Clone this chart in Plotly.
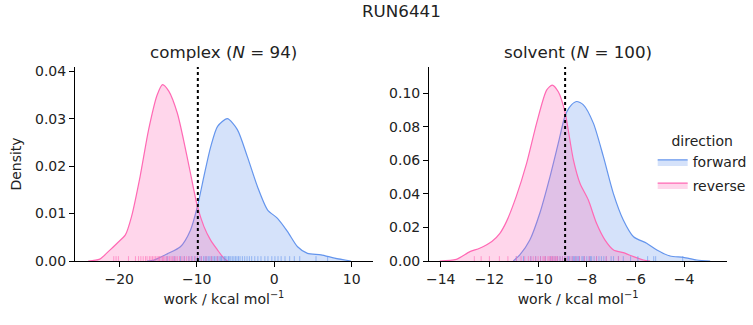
import plotly.graph_objects as go

# ---------------- data ----------------
# KDE curves (work in kcal/mol, density)
cx_fwd_x = [-16.4, -15.5, -13.8, -12.1, -10.8, -9.9, -9.07, -8.2, -7.3, -6.05, -4.75, -3.46,
            -2.16, -0.86, 0.43, 1.73, 3.02, 4.3, 6.05, 7.8, 9.9]
cx_fwd_y = [0, 0.0002, 0.0015, 0.003, 0.0065, 0.0115, 0.0178, 0.024, 0.0284, 0.030, 0.0277, 0.022,
            0.0157, 0.0108, 0.009, 0.0062, 0.003, 0.0016, 0.0013, 0.0006, 0.0]
cx_rev_x = [-24.0, -22.5, -21.2, -20.3, -19.2, -18.4, -17.3, -16.2, -15.1, -14.4, -13.6, -12.5,
            -11.7, -10.8, -9.9, -9.07, -8.2, -7.3, -6.5, -6.0]
cx_rev_y = [0, 0.0004, 0.0023, 0.0037, 0.0055, 0.0094, 0.0178, 0.0277, 0.035, 0.0372, 0.0358, 0.0312,
            0.0256, 0.0185, 0.0115, 0.0073, 0.0044, 0.0023, 0.0006, 0.0]

sv_fwd_x = [-11.02, -10.75, -10.34, -9.93, -9.51, -9.17, -8.9, -8.69, -8.42, -8.14, -7.73, -7.32,
            -6.91, -6.5, -6.08, -5.54, -5.12, -4.58, -4.03, -3.48, -2.93]
sv_fwd_y = [0, 0.0036, 0.0125, 0.0285, 0.0504, 0.0703, 0.0863, 0.0922, 0.0952, 0.0932, 0.0823, 0.0624,
            0.0404, 0.0245, 0.0145, 0.0106, 0.0066, 0.003, 0.0022, 0.0006, 0]
sv_rev_x = [-14.04, -13.36, -12.8, -12.4, -11.9, -11.57, -11.3, -10.9, -10.47, -10.06, -9.65, -9.42,
            -9.17, -8.9, -8.55, -8.28, -7.94, -7.6, -7.25, -6.9, -6.5, -6.08, -5.67, -5.4]
sv_rev_y = [0, 0.001, 0.0056, 0.0076, 0.0116, 0.0165, 0.0235, 0.0384, 0.0584, 0.0823, 0.102, 0.105,
            0.101, 0.0892, 0.0604, 0.0464, 0.0365, 0.0225, 0.0125, 0.0066, 0.005, 0.0026, 0.0006, 0]

# rug samples (estimated)
cx_fwd_rug = [-13.8, -12.9, -12.1, -11.6, -11.0, -10.6, -10.2, -9.9, -9.6, -9.4, -9.1, -8.9, -8.7,
              -8.5, -8.3, -8.1, -7.9, -7.7, -7.5, -7.3, -7.1, -6.9, -6.8, -6.6, -6.4, -6.3, -6.1,
              -5.9, -5.8, -5.6, -5.4, -5.2, -5.0, -4.8, -4.6, -4.4, -4.1, -3.8, -3.5, -3.2, -2.9,
              -2.5, -2.1, -1.7, -1.2, -0.8, -0.3, 0.1, 0.5, 0.9, 1.4, 2.0, 2.6, 3.3, 5.4, 6.9]
cx_rev_rug = [-20.7, -20.4, -20.1, -18.8, -17.9, -17.5, -17.2, -16.9, -16.6, -16.4, -16.1, -15.9,
              -15.7, -15.5, -15.3, -15.1, -14.9, -14.8, -14.6, -14.4, -14.3, -14.1, -13.9, -13.7,
              -13.5, -13.3, -13.1, -12.9, -12.7, -12.5, -12.2, -11.9, -11.6, -11.3, -11.0, -10.7,
              -10.3, -9.9, -9.4, -8.8, -8.1, -7.3]
sv_fwd_rug = [-10.9, -10.6, -10.3, -10.1, -9.9, -9.7, -9.5, -9.4, -9.3, -9.2, -9.1, -9.0, -8.9,
              -8.8, -8.75, -8.7, -8.6, -8.55, -8.5, -8.45, -8.4, -8.35, -8.3, -8.2, -8.15, -8.1,
              -8.0, -7.9, -7.85, -7.8, -7.7, -7.6, -7.5, -7.4, -7.3, -7.2, -7.0, -6.9, -6.7, -6.5,
              -6.2, -5.9, -5.5, -5.25, -5.17, -4.06]
sv_rev_rug = [-12.62, -12.34, -12.0, -11.59, -11.24, -10.89, -10.7, -10.55, -10.4, -10.3, -10.2,
              -10.1, -10.0, -9.9, -9.8, -9.75, -9.7, -9.6, -9.55, -9.5, -9.45, -9.4, -9.35, -9.3,
              -9.25, -9.2, -9.1, -9.0, -8.9, -8.8, -8.7, -8.6, -8.45, -8.3, -8.1, -7.9, -7.6,
              -7.2, -6.7]

dg_complex = -9.85
dg_solvent = -8.89

panel_titles = ["complex (<i>N</i> = 94)", "solvent (<i>N</i> = 100)"]
suptitle = "RUN6441"
xlabel = "work / kcal mol<sup>−1</sup>"
ylabel = "Density"
directions = ["forward", "reverse"]

# ---------------- style ----------------
FONT = "DejaVu Sans"
BLUE = "#6495ED"
PINK = "#FF69B4"
BLUE_FILL = "rgba(100,149,237,0.27)"
PINK_FILL = "rgba(255,105,180,0.27)"
BLUE_RUG = "rgba(100,149,237,0.6)"
PINK_RUG = "rgba(255,105,180,0.6)"

xr = [[-25.7, 12.75], [-14.48, -2.24]]
yr = [[0, 0.0409], [0, 0.1158]]

fig = go.Figure()

panels = [
    (cx_fwd_x, cx_fwd_y, cx_rev_x, cx_rev_y, cx_fwd_rug, cx_rev_rug, dg_complex),
    (sv_fwd_x, sv_fwd_y, sv_rev_x, sv_rev_y, sv_fwd_rug, sv_rev_rug, dg_solvent),
]

def rug_xy(vals, h):
    xs, ys = [], []
    for v in vals:
        xs += [v, v, None]
        ys += [0, h, None]
    return xs, ys

for i, (fx, fy, rx, ry, frug, rrug, dg) in enumerate(panels):
    xa = "x" if i == 0 else "x2"
    ya = "y" if i == 0 else "y2"
    for name, xs, ys, lc, fc in [(directions[0], fx, fy, BLUE, BLUE_FILL),
                                  (directions[1], rx, ry, PINK, PINK_FILL)]:
        fig.add_trace(go.Scatter(
            x=xs, y=ys, mode="lines", name=name, legendgroup=name,
            showlegend=(i == 1), fill="tozeroy", fillcolor=fc,
            line=dict(color=lc, width=1.2, shape="spline", smoothing=0.7),
            xaxis=xa, yaxis=ya, hoverinfo="skip"))
    h = 0.025 * yr[i][1]
    for vals, c in [(frug, BLUE_RUG), (rrug, PINK_RUG)]:
        rxs, rys = rug_xy(vals, h)
        fig.add_trace(go.Scatter(x=rxs, y=rys, mode="lines", showlegend=False,
                                 line=dict(color=c, width=1), xaxis=xa, yaxis=ya,
                                 hoverinfo="skip"))
    fig.add_shape(type="line", xref=xa, yref=ya + " domain", x0=dg, x1=dg, y0=0, y1=1,
                  line=dict(color="black", width=2, dash="dot"))

axis_common = dict(showline=True, linecolor="black", linewidth=1, ticks="outside",
                   ticklen=5, tickcolor="black", tickwidth=1, showgrid=False, zeroline=False,
                   tickfont=dict(family=FONT, size=14, color="#222"),
                   mirror=False, automargin=False)

fig.update_layout(
    width=753, height=325,
    margin=dict(l=75, r=26, t=67, b=64, autoexpand=False),
    paper_bgcolor="white", plot_bgcolor="white",
    font=dict(family=FONT, color="#222"),
    xaxis=dict(domain=[0, 0.457], range=xr[0], tickvals=[-20, -10, 0, 10],
               title=dict(text=xlabel, font=dict(size=14), standoff=8), **axis_common),
    yaxis=dict(range=yr[0], tickvals=[0, 0.01, 0.02, 0.03, 0.04], tickformat=".2f",
               title=dict(text=ylabel, font=dict(size=14), standoff=10), **axis_common),
    xaxis2=dict(domain=[0.543, 1], range=xr[1], tickvals=[-14, -12, -10, -8, -6, -4],
                anchor="y2",
                title=dict(text=xlabel, font=dict(size=14), standoff=8), **axis_common),
    yaxis2=dict(range=yr[1], tickvals=[0, 0.02, 0.04, 0.06, 0.08, 0.10], tickformat=".2f",
                anchor="x2", **axis_common),
    legend=dict(x=0.886, y=0.685, xanchor="left", yanchor="top",
                title=dict(text="direction", side="top center", font=dict(size=14)),
                font=dict(size=14), bgcolor="rgba(0,0,0,0)", itemwidth=30,
                tracegroupgap=2),
    annotations=[
        dict(text=suptitle, x=0.5, xref="paper", xanchor="center", y=1.0, yref="paper",
             yanchor="bottom", yshift=44, showarrow=False, font=dict(size=16.7)),
        dict(text=panel_titles[0], x=0.2285, xref="paper", xanchor="center", y=1.0,
             yref="paper", yanchor="bottom", yshift=3, showarrow=False, font=dict(size=16.7)),
        dict(text=panel_titles[1], x=0.7715, xref="paper", xanchor="center", y=1.0,
             yref="paper", yanchor="bottom", yshift=3, showarrow=False, font=dict(size=16.7)),
    ],
)

fig.write_html("out.html")
